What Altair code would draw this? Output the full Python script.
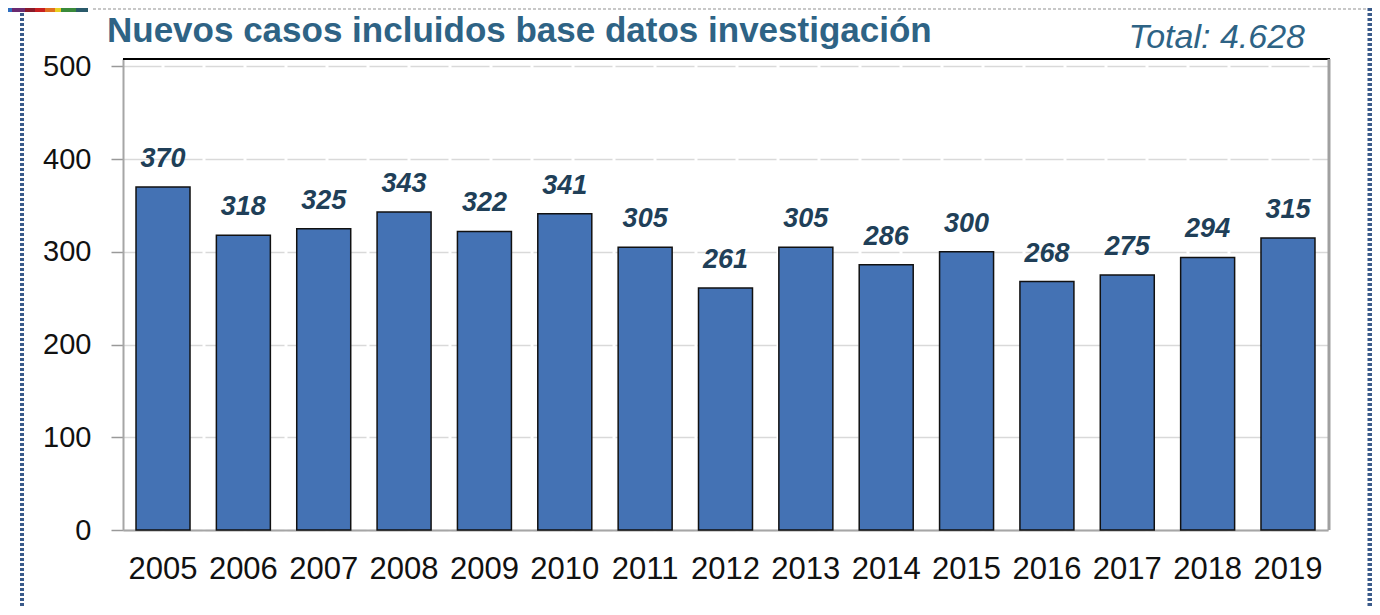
import altair as alt
import pandas as pd

years = ["2005", "2006", "2007", "2008", "2009", "2010", "2011", "2012",
         "2013", "2014", "2015", "2016", "2017", "2018", "2019"]
values = [370, 318, 325, 343, 322, 341, 305, 261, 305, 286, 300, 268, 275, 294, 315]
y_ticks = [0, 100, 200, 300, 400, 500]
title_text = "Nuevos casos incluidos base datos investigación"
total_text = "Total: 4.628"
strip_colors = ["#2f6fc0", "#6a2a70", "#8a1a2a", "#c82020", "#e07020", "#e8d020", "#3a8a3a", "#2a5a6a"]
strip_widths = [12, 13, 10, 10, 10, 6, 15, 12]

df = pd.DataFrame({"year": years, "value": values})
one = pd.DataFrame({"k": [0]})

W, H = 1205, 471
OX, OY = 123, 59  # page offset of plot origin
TOP = -51         # svg top edge relative to plot origin

x = alt.X("year:N", sort=years,
          scale=alt.Scale(paddingInner=0.328, paddingOuter=0.162),
          axis=alt.Axis(title=None, labelAngle=0, labelFont="Liberation Sans",
                        labelFontSize=31, labelColor="#111111", labelPadding=24,
                        ticks=False, domainColor="#a6a6a6", domainWidth=2, grid=False))
y = alt.Y("value:Q", scale=alt.Scale(domain=[0, 508], nice=False),
          axis=alt.Axis(title=None, values=y_ticks, labelFont="Liberation Sans",
                        labelFontSize=29, labelColor="#111111", tickSize=12,
                        tickColor="#999999", tickWidth=1.5, labelPadding=20,
                        grid=True, gridColor="#d9d9d9", gridDash=[38, 3], gridWidth=1.5,
                        domainColor="#a6a6a6", domainWidth=2))

bars = alt.Chart(df).mark_bar(color="#4472b4", stroke="#111111", strokeWidth=1.5).encode(x=x, y=y)

labels = alt.Chart(df).mark_text(
    dy=-20, baseline="alphabetic", font="Liberation Sans Narrow, Arial Narrow, Liberation Sans",
    fontStyle="italic", fontWeight="bold", fontSize=27, color="#203f58"
).encode(x=alt.X("year:N", sort=years), y="value:Q", text="value:Q")

base1 = alt.Chart(one)

frame_top = base1.mark_rule(color="#000000", strokeWidth=2).encode(
    x=alt.value(0), x2=alt.value(W + 2), y=alt.value(0))
frame_right = base1.mark_rule(color="#a0a0a0", strokeWidth=3).encode(
    x=alt.value(W + 1), y=alt.value(0), y2=alt.value(H))

border_left = base1.mark_rule(color="#3a5a8a", strokeWidth=4, strokeDash=[3, 2]).encode(
    x=alt.value(22 - OX), y=alt.value(TOP + 5), y2=alt.value(560))
border_right = base1.mark_rule(color="#3a5a8a", strokeWidth=5, strokeDash=[3, 2]).encode(
    x=alt.value(1247), y=alt.value(TOP), y2=alt.value(560))
border_top = base1.mark_rule(color="#c8c8c8", strokeWidth=2, strokeDash=[3, 2]).encode(
    x=alt.value(93 - OX), x2=alt.value(1245), y=alt.value(TOP + 1))

strip_layers = []
pos = 0
for c, w in zip(strip_colors, strip_widths):
    strip_layers.append(base1.mark_rect(color=c).encode(
        x=alt.value(pos - OX), x2=alt.value(pos + w - OX),
        y=alt.value(TOP), y2=alt.value(TOP + 4)))
    pos += w

title = base1.mark_text(align="left", baseline="alphabetic", font="Liberation Sans",
                        fontWeight="bold", fontSize=35, color="#2e6385").encode(
    x=alt.value(-16), y=alt.value(-17), text=alt.value(title_text))
total = base1.mark_text(align="right", baseline="alphabetic", font="Liberation Sans",
                        fontStyle="italic", fontSize=34, color="#2e6385").encode(
    x=alt.value(1182), y=alt.value(-11), text=alt.value(total_text))

chart = alt.layer(
    bars, labels, frame_top, frame_right, border_left, border_right, border_top,
    *strip_layers, title, total
).properties(
    width=W, height=H,
    autosize=alt.AutoSizeParams(type="none"),
    padding={"left": 115, "top": 51, "right": 44, "bottom": 77},
).configure_view(stroke=None).configure(background="white")

chart.save("out.html", embed_options={"renderer": "svg", "actions": False})
